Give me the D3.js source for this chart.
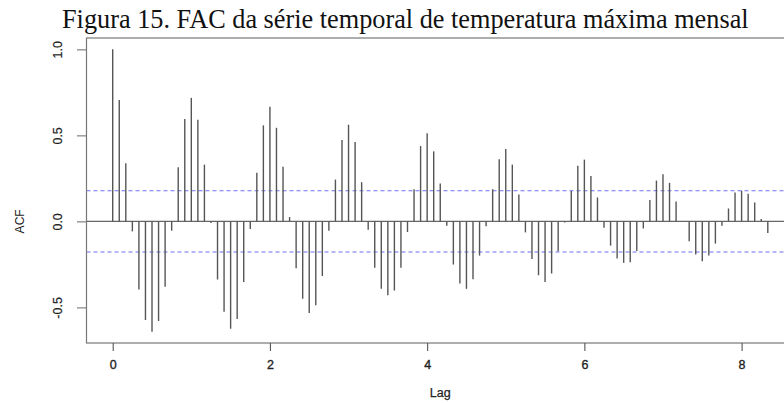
<!DOCTYPE html>
<html>
<head>
<meta charset="utf-8">
<script src="https://cdn.jsdelivr.net/npm/d3@7.9.0/dist/d3.min.js"></script>
<style>
  html, body { margin: 0; padding: 0; background: #fff; }
  svg { display: block; }
</style>
</head>
<body>
<svg id="chart" width="784" height="403"></svg>
<script>
// monthly ACF, lags 0..100 (in years = lag / 12)
const freq = 12;
const acfValues = [
  1.000, 0.705, 0.338, -0.058, -0.396, -0.573, -0.641, -0.579, -0.380, -0.054,
  0.315, 0.595, 0.718, 0.591, 0.330, -0.010, -0.338, -0.525, -0.624, -0.568,
  -0.353, -0.044, 0.282, 0.558, 0.666, 0.544, 0.317, 0.025, -0.272, -0.450,
  -0.533, -0.488, -0.318, -0.054, 0.243, 0.473, 0.562, 0.461, 0.228, -0.048,
  -0.270, -0.392, -0.430, -0.402, -0.270, -0.062, 0.187, 0.438, 0.512, 0.407,
  0.220, -0.025, -0.251, -0.361, -0.392, -0.336, -0.199, -0.029, 0.187, 0.361,
  0.421, 0.330, 0.156, -0.064, -0.218, -0.313, -0.353, -0.303, -0.174, -0.006,
  0.176, 0.324, 0.359, 0.264, 0.139, -0.037, -0.141, -0.216, -0.241, -0.237,
  -0.172, -0.041, 0.125, 0.237, 0.274, 0.224, 0.116, 0.002, -0.116, -0.193,
  -0.232, -0.199, -0.129, -0.025, 0.075, 0.168, 0.178, 0.160, 0.110, 0.014,
  -0.068
];
const confLimit = 0.178;
const xTicks = [0, 2, 4, 6, 8];
const yTicks = [-0.5, 0, 0.5, 1.0];
const yTickLabels = ["-0.5", "0.0", "0.5", "1.0"];
const title = "Figura 15. FAC da série temporal de temperatura máxima mensal";

const lagData = acfValues.map((v, i) => ({ lag: i / freq, acf: v }));

const svg = d3.select("#chart");
const plotLeft = 86.5, plotRight = 794, plotTop = 38, plotBottom = 343;

const x = d3.scaleLinear().domain([-1 / 3, 8 + 2 / 3]).range([plotLeft, plotRight]);
const y = d3.scaleLinear().domain([-0.707, 1.066]).range([plotBottom, plotTop]);

const sans = "'Liberation Sans', Arial, sans-serif";

// title (serif caption above the plot)
const titleText = svg.append("text")
  .attr("x", 62)
  .attr("y", 28)
  .attr("font-family", "'Liberation Serif', 'Times New Roman', serif")
  .attr("font-size", 22)
  .attr("fill", "#111")
  .text(title);
const w = titleText.node().getComputedTextLength();
titleText.attr("font-size", 22 * 687 / w);

// zero line
svg.append("line")
  .attr("x1", plotLeft).attr("x2", plotRight)
  .attr("y1", y(0)).attr("y2", y(0))
  .attr("stroke", "#666").attr("stroke-width", 1.2);

// confidence bounds
[confLimit, -confLimit].forEach((c) => {
  svg.append("line")
    .attr("x1", plotLeft).attr("x2", plotRight)
    .attr("y1", y(c)).attr("y2", y(c))
    .attr("stroke", "#6f6ff2")
    .attr("stroke-width", 1.1)
    .attr("stroke-dasharray", "4,3");
});

// ACF spikes
svg.append("g")
  .selectAll("line")
  .data(lagData)
  .join("line")
  .attr("x1", (d) => x(d.lag))
  .attr("x2", (d) => x(d.lag))
  .attr("y1", y(0))
  .attr("y2", (d) => y(d.acf))
  .attr("stroke", "#555")
  .attr("stroke-width", 1.4);

// plot box
svg.append("rect")
  .attr("x", plotLeft).attr("y", plotTop)
  .attr("width", plotRight - plotLeft).attr("height", plotBottom - plotTop)
  .attr("fill", "none")
  .attr("stroke", "#777")
  .attr("stroke-width", 1.2);

// x axis
const xAxis = svg.append("g")
  .attr("transform", `translate(0,${plotBottom})`)
  .call(d3.axisBottom(x).tickValues(xTicks).tickSize(8).tickPadding(9).tickFormat(d3.format("d")));
xAxis.select(".domain").remove();
xAxis.selectAll(".tick line").attr("stroke", "#555").attr("stroke-width", 1.1);
xAxis.selectAll("text")
  .attr("font-family", sans).attr("font-size", 12.5).attr("fill", "#222")
  .attr("stroke", "#222").attr("stroke-width", 0.35);

// y axis with rotated labels
const yAxis = svg.append("g")
  .attr("transform", `translate(${plotLeft},0)`)
  .call(d3.axisLeft(y).tickValues(yTicks).tickSize(9.5).tickFormat((d, i) => yTickLabels[i]));
yAxis.select(".domain").remove();
yAxis.selectAll(".tick line").attr("stroke", "#777").attr("stroke-width", 1.1);
yAxis.selectAll("text")
  .attr("font-family", sans).attr("font-size", 12.5).attr("fill", "#222")
  .attr("stroke", "#222").attr("stroke-width", 0.2)
  .attr("x", null).attr("dy", null)
  .attr("text-anchor", "middle")
  .attr("transform", "translate(-29,0) rotate(-90)")
  .attr("dominant-baseline", "central");

// axis titles
svg.append("text")
  .attr("x", (plotLeft + plotRight) / 2)
  .attr("y", 397)
  .attr("text-anchor", "middle")
  .attr("font-family", sans).attr("font-size", 12.5).attr("fill", "#222")
  .attr("stroke", "#222").attr("stroke-width", 0.25)
  .text("Lag");

svg.append("text")
  .attr("transform", `translate(24,${y(0)}) rotate(-90)`)
  .attr("text-anchor", "middle")
  .attr("font-family", sans).attr("font-size", 12).attr("fill", "#222")
  .text("ACF");
</script>
</body>
</html>
